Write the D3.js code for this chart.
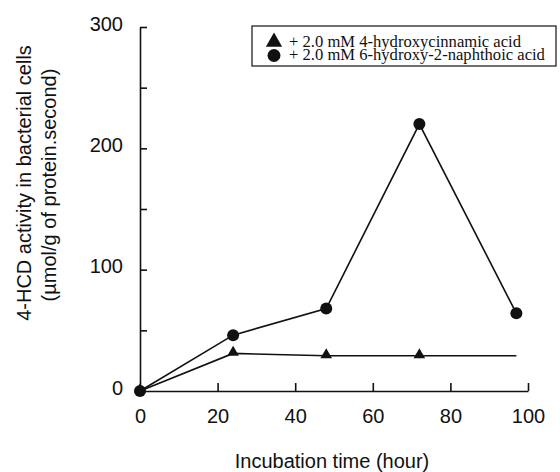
<!DOCTYPE html>
<html>
<head>
<meta charset="utf-8">
<script src="https://cdn.jsdelivr.net/npm/d3@7"></script>
<style>
  body { margin: 0; background: #fff; }
  text { font-family: "Liberation Sans", Arial, sans-serif; fill: #111; }
  .legend text { font-family: "Liberation Serif", "Times New Roman", serif; }
</style>
</head>
<body>
<div id="chart"></div>
<script>
// Data
var hours = [0, 24, 48, 72, 97];
var cinnamic = [0, 31, 29, 29, 29];     // triangles
var naphthoic = [0, 46, 68, 220, 64];   // circles
var cinnamicMarkers = [true, true, true, true, false];
var xTicks = [0, 20, 40, 60, 80, 100];
var yTicks = [0, 50, 100, 150, 200, 250, 300];
var yLabels = [0, 100, 200, 300];
var legendLabels = ["+ 2.0 mM 4-hydroxycinnamic acid", "+ 2.0 mM 6-hydroxy-2-naphthoic acid"];

var svgWidth = 560, svgHeight = 472;

var svg = d3.select("#chart")
  .append("svg")
  .attr("width", svgWidth)
  .attr("height", svgHeight);

// Scales
var x = d3.scaleLinear().domain([0, 100]).range([140, 528]);
var y = d3.scaleLinear().domain([0, 300]).range([391, 27]);

// x axis (ticks pointing up into the plot)
var xAxis = d3.axisBottom(x).tickValues(xTicks).tickSize(-8).tickSizeOuter(0).tickPadding(18);
var gx = svg.append("g")
  .attr("transform", `translate(0, ${y(0)})`)
  .call(xAxis);
gx.selectAll("text").attr("font-size", "20px");
gx.select(".tick:first-of-type line").remove();

// y axis (ticks pointing right into the plot)
var yAxis = d3.axisLeft(y).tickValues(yTicks).tickSize(-7).tickSizeOuter(0)
  .tickPadding(17)
  .tickFormat(d => yLabels.indexOf(d) >= 0 ? d : "");
var gy = svg.append("g")
  .attr("transform", `translate(${x(0)}, 0)`)
  .call(yAxis);
gy.selectAll("text").attr("font-size", "20px").attr("dy", "0.15em");
gy.select(".tick:first-of-type line").remove();

svg.selectAll(".domain, .tick line").attr("stroke", "#111").attr("stroke-width", 1.6);

// Lines
var line = d3.line().x(d => x(d[0])).y(d => y(d[1]));
var triData = hours.map((h, i) => [h, cinnamic[i]]);
var cirData = hours.map((h, i) => [h, naphthoic[i]]);

svg.append("path").datum(triData).attr("d", line)
  .attr("fill", "none").attr("stroke", "#111").attr("stroke-width", 1.6);
svg.append("path").datum(cirData).attr("d", line)
  .attr("fill", "none").attr("stroke", "#111").attr("stroke-width", 1.6);

// Markers
var tri = d3.symbol().type(d3.symbolTriangle).size(58);
svg.selectAll(".tri")
  .data(triData.filter((d, i) => cinnamicMarkers[i]))
  .enter().append("path")
  .attr("class", "tri")
  .attr("d", tri)
  .attr("transform", d => `translate(${x(d[0])}, ${y(d[1]) - 1})`)
  .attr("fill", "#111");

svg.selectAll(".dot")
  .data(cirData)
  .enter().append("circle")
  .attr("class", "dot")
  .attr("cx", d => x(d[0]))
  .attr("cy", d => y(d[1]))
  .attr("r", 6)
  .attr("fill", "#111");

// Legend
var legend = svg.append("g").attr("class", "legend");
legend.append("rect")
  .attr("x", 252).attr("y", 26).attr("width", 304).attr("height", 40)
  .attr("fill", "none").attr("stroke", "#111").attr("stroke-width", 1.2);
legend.append("path").attr("d", d3.symbol().type(d3.symbolTriangle).size(115))
  .attr("transform", "translate(274, 42)").attr("fill", "#111");
legend.append("circle").attr("cx", 274).attr("cy", 55.5).attr("r", 6.5).attr("fill", "#111");
legend.selectAll("text.lbl")
  .data(legendLabels)
  .enter().append("text")
  .attr("class", "lbl")
  .attr("x", 289)
  .attr("y", (d, i) => 46.5 + i * 13.5)
  .attr("font-size", "16.6px")
  .text(d => d);

// Axis titles
svg.append("text")
  .attr("x", 332).attr("y", 468)
  .attr("text-anchor", "middle")
  .attr("font-size", "20px")
  .text("Incubation time (hour)");

svg.append("text")
  .attr("transform", "translate(31, 183) rotate(-90)")
  .attr("text-anchor", "middle")
  .attr("font-size", "20px")
  .text("4-HCD activity in bacterial cells");

svg.append("text")
  .attr("transform", "translate(56, 185) rotate(-90)")
  .attr("text-anchor", "middle")
  .attr("font-size", "20px")
  .text("(\u00b5mol/g of protein.second)");
</script>
</body>
</html>
